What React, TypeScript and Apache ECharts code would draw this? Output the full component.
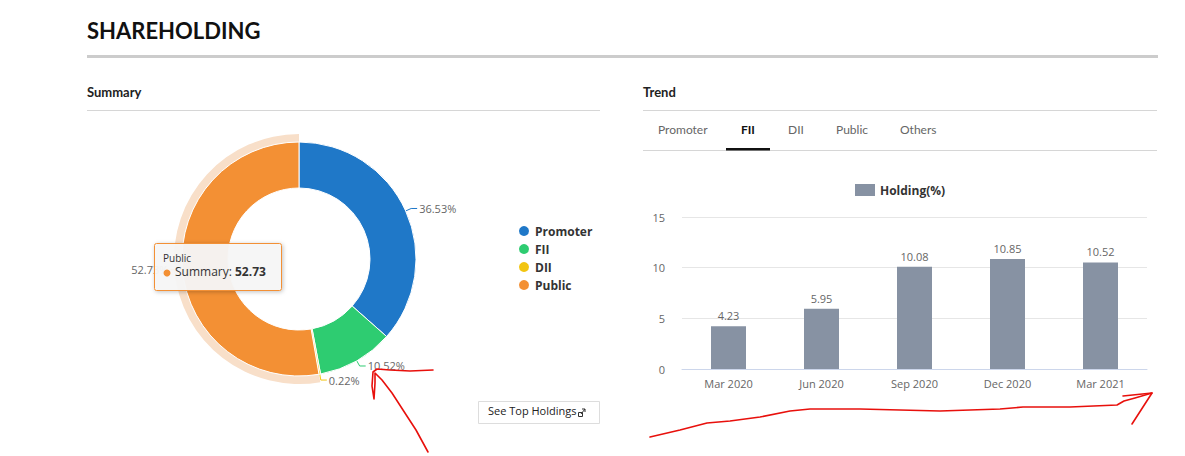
import React, { useEffect, useRef } from "react";
import * as echarts from "echarts";

const pieNames = ["Promoter", "FII", "DII", "Public"];
const pieValues = [36.53, 10.52, 0.22, 52.73];
const pieColors = ["#1f78c8", "#2ecc71", "#f2c511", "#f39034"];
const quarters = ["Mar 2020", "Jun 2020", "Sep 2020", "Dec 2020", "Mar 2021"];
const fiiHolding = [4.23, 5.95, 10.08, 10.85, 10.52];
const tabs = ["Promoter", "FII", "DII", "Public", "Others"];
const tabX = [658, 741, 788, 836, 900];
const activeTab = "FII";
const tooltipName = "Public";
const tooltipSeries = "Summary";

const HEAD = "Lato, 'Open Sans', sans-serif";
const BODY = "'Open Sans', 'Noto Sans', sans-serif";

export default function App() {
  const ref = useRef<HTMLDivElement>(null);
  useEffect(() => {
    if (!ref.current) return;
    const chart = echarts.init(ref.current, null, { renderer: "svg" });
    const pieData = pieNames.map((n, i) => ({
      name: n,
      value: pieValues[i],
      itemStyle: { color: pieColors[i] },
    }));
    const haloData = pieNames.map((n, i) => ({
      name: "halo-" + n,
      value: pieValues[i],
      itemStyle: { color: n === tooltipName ? "#f8dfc9" : "rgba(0,0,0,0)" },
    }));
    const tipIdx = pieNames.indexOf(tooltipName);

    const red = { stroke: "#e8100c", lineWidth: 1.6, fill: null as any, lineJoin: "round", lineCap: "round" };

    chart.setOption({
      animation: false,
      backgroundColor: "#ffffff",
      legend: [
        {
          data: pieNames,
          orient: "vertical",
          left: 512,
          top: 219,
          itemGap: 4,
          icon: "circle",
          itemWidth: 12,
          itemHeight: 12,
          textStyle: { fontFamily: BODY, fontWeight: "bold", fontSize: 12, color: "#333" },
        },
        {
          data: ["Holding(%)"],
          left: 850,
          top: 179,
          icon: "rect",
          itemWidth: 20,
          itemHeight: 12,
          textStyle: { fontFamily: BODY, fontWeight: "bold", fontSize: 12, color: "#333" },
        },
      ],
      grid: { left: 682, top: 217, width: 465, height: 152, containLabel: false },
      xAxis: {
        type: "category",
        data: quarters,
        axisLine: { lineStyle: { color: "#ccd6eb" } },
        axisTick: { show: false },
        axisLabel: { fontFamily: BODY, fontSize: 11, color: "#666", margin: 9 },
      },
      yAxis: {
        type: "value",
        min: 0,
        max: 15,
        interval: 5,
        axisLine: { show: false },
        axisTick: { show: false },
        splitLine: { lineStyle: { color: "#e6e6e6" } },
        axisLabel: { fontFamily: BODY, fontSize: 11, color: "#666", margin: 17 },
      },
      series: [
        {
          type: "pie",
          name: "halo",
          center: [299, 259],
          radius: [117, 125],
          startAngle: 90,
          clockwise: true,
          silent: true,
          legendHoverLink: false,
          label: { show: false },
          labelLine: { show: false },
          data: haloData,
          z: 1,
        },
        {
          type: "pie",
          name: tooltipSeries,
          center: [299, 259],
          radius: [71, 117],
          startAngle: 90,
          clockwise: true,
          avoidLabelOverlap: true,
          itemStyle: { borderColor: "#ffffff", borderWidth: 1 },
          label: {
            show: true,
            position: "outside",
            formatter: (p: any) => p.value.toFixed(2) + "%",
            fontFamily: BODY,
            fontSize: 11,
            color: "#666",
            distanceToLabelLine: 2,
          },
          labelLine: { show: true, length: 6, length2: 6, lineStyle: { width: 1 } },
          data: pieData,
          z: 2,
        },
        {
          type: "bar",
          name: "Holding(%)",
          data: fiiHolding,
          barWidth: 35,
          itemStyle: { color: "#8792a3" },
          label: {
            show: true,
            position: "top",
            distance: 5,
            fontFamily: BODY,
            fontSize: 11,
            color: "#666",
            formatter: (p: any) => p.value.toFixed(2),
          },
        },
      ],
      graphic: [
        { type: "text", left: 87, top: 19, style: { text: "SHAREHOLDING", font: `bold 22px ${HEAD}`, fill: "#111" } },
        { type: "rect", shape: { x: 87, y: 55, width: 1071, height: 3 }, style: { fill: "#cccccc" } },
        { type: "text", left: 87, top: 85, style: { text: "Summary", font: `bold 13px ${HEAD}`, fill: "#222" } },
        { type: "rect", shape: { x: 87, y: 110, width: 513, height: 1 }, style: { fill: "#d6d6d6" } },
        { type: "text", left: 643, top: 85, style: { text: "Trend", font: `bold 13px ${HEAD}`, fill: "#222" } },
        { type: "rect", shape: { x: 643, y: 110, width: 514, height: 1 }, style: { fill: "#d6d6d6" } },
        ...tabs.map((t, i) => ({
          type: "text",
          left: tabX[i],
          top: 123,
          style: {
            text: t,
            font: `${t === activeTab ? "bold " : ""}12px ${HEAD}`,
            fill: t === activeTab ? "#111" : "#666",
          },
        })),
        { type: "rect", shape: { x: 643, y: 150, width: 514, height: 1 }, style: { fill: "#d6d6d6" } },
        { type: "rect", shape: { x: 726, y: 148, width: 44, height: 2.5 }, style: { fill: "#111" } },
        // See Top Holdings button
        { type: "rect", shape: { x: 478.5, y: 401.5, width: 121, height: 22 }, style: { fill: "#fff", stroke: "#dddddd", lineWidth: 1 } },
        { type: "text", left: 488, top: 405, style: { text: "See Top Holdings", font: `11px ${BODY}`, fill: "#222" } },
        { type: "rect", shape: { x: 578.5, y: 412.5, width: 4, height: 4 }, style: { fill: null, stroke: "#333", lineWidth: 1 } },
        { type: "polyline", shape: { points: [[581, 414], [585, 409]] }, style: { stroke: "#333", lineWidth: 1 } },
        { type: "polyline", shape: { points: [[582, 409], [585, 409], [585, 412]] }, style: { stroke: "#333", lineWidth: 1, fill: null } },
        // tooltip
        {
          type: "rect",
          z: 100,
          shape: { x: 154.5, y: 243.5, width: 127, height: 47, r: 2 },
          style: {
            fill: "rgba(247,247,247,0.95)",
            stroke: pieColors[tipIdx],
            lineWidth: 1,
            shadowBlur: 4,
            shadowOffsetX: 1,
            shadowOffsetY: 1,
            shadowColor: "rgba(0,0,0,0.25)",
          },
        },
        { type: "text", z: 101, left: 163, top: 253, style: { text: tooltipName, font: `10px ${BODY}`, fill: "#333" } },
        { type: "circle", z: 101, shape: { cx: 167, cy: 273, r: 3.5 }, style: { fill: pieColors[tipIdx] } },
        {
          type: "text",
          z: 101,
          left: 175,
          top: 265,
          style: {
            rich: {
              a: { fontFamily: BODY, fontSize: 12, fill: "#333" },
              b: { fontFamily: BODY, fontSize: 12, fontWeight: "bold", fill: "#333" },
            },
            text: `{a|${tooltipSeries}: }{b|${pieValues[tipIdx].toFixed(2)}}`,
          },
        },
        // red hand annotations
        {
          type: "polyline",
          z: 200,
          shape: {
            points: [[433, 370], [410, 371], [390, 370], [377, 369], [373, 372], [372, 386], [374, 399], [375, 383], [375, 373], [382, 380], [392, 393], [403, 410], [416, 430], [428, 452]],
          },
          style: red,
        },
        {
          type: "polyline",
          z: 200,
          shape: {
            points: [[650, 437], [680, 430], [707, 423], [730, 421], [760, 417], [790, 411], [810, 409], [860, 409], [940, 411], [1000, 409], [1023, 407], [1070, 407], [1117, 405], [1124, 401], [1135, 398], [1152, 393]],
          },
          style: red,
        },
        { type: "polyline", z: 200, shape: { points: [[1123, 396], [1152, 393], [1132, 424]] }, style: red },
      ],
    });
    return () => chart.dispose();
  }, []);
  return (
    <div
      ref={ref}
      style={{ position: "fixed", left: 0, top: 0, width: 1185, height: 456, background: "#fff" }}
    />
  );
}
